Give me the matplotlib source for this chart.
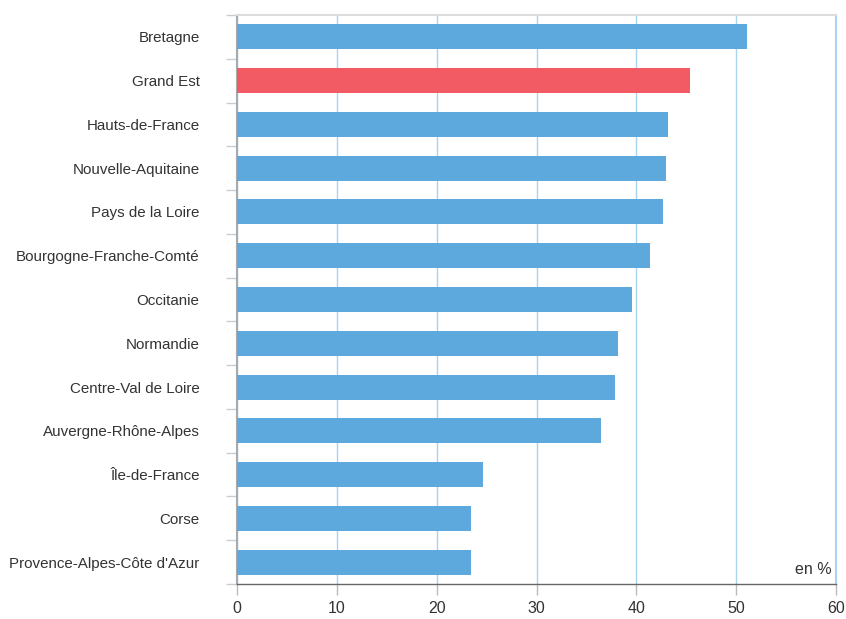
import matplotlib.pyplot as plt
import numpy as np

plt.rcParams['font.family'] = ['Liberation Sans', 'DejaVu Sans']

regions = ["Bretagne", "Grand Est", "Hauts-de-France", "Nouvelle-Aquitaine",
           "Pays de la Loire", "Bourgogne-Franche-Comté", "Occitanie", "Normandie",
           "Centre-Val de Loire", "Auvergne-Rhône-Alpes", "Île-de-France", "Corse",
           "Provence-Alpes-Côte d'Azur"]
values = [51.1, 45.4, 43.2, 43.0, 42.7, 41.4, 39.6, 38.2, 37.9, 36.5, 24.6, 23.4, 23.4]
highlight = "Grand Est"
xticks = [0, 10, 20, 30, 40, 50, 60]

blue = "#5DA9DD"
red = "#F25B63"

fig = plt.figure(figsize=(8.46, 6.19), dpi=100)
ax = fig.add_axes([237 / 846, 1 - 584 / 619, (836 - 237) / 846, (584 - 15) / 619])

y = np.arange(len(regions))
colors = [red if r == highlight else blue for r in regions]
ax.barh(y, values, height=0.57, color=colors, zorder=3)

ax.set_xlim(0, 60)
ax.set_ylim(len(regions) - 0.5, -0.5)
ax.set_xticks(xticks)
ax.set_xticklabels([str(t) for t in xticks], fontsize=11.5, color="#333333")
ax.set_yticks(y)
ax.set_yticklabels(regions, fontsize=10.9, color="#333333")
ax.tick_params(axis='y', length=0, pad=27)
ax.tick_params(axis='x', length=8, color="#BBBBBB", width=1, pad=4)

# boundary ticks on y axis
ax.set_yticks(np.arange(len(regions) + 1) - 0.5, minor=True)
ax.tick_params(axis='y', which='minor', length=8, color="#CCCCCC", width=1)

ax.grid(axis='x', color="#A8D4F0", linewidth=1, zorder=0)
ax.set_axisbelow(True)

ax.spines['left'].set_color("#AAAAAA")
ax.spines['left'].set_linewidth(1.5)
ax.spines['bottom'].set_color("#666666")
ax.spines['bottom'].set_linewidth(1)
ax.spines['top'].set_color("#DDDDDD")
ax.spines['top'].set_linewidth(1.5)
ax.spines['right'].set_color("#A8D4F0")
ax.spines['right'].set_linewidth(1.5)

ax.text(0.993, 0.012, "en %", transform=ax.transAxes, ha='right', va='bottom',
        fontsize=11.5, color="#333333")

fig.savefig("out.png", dpi=100)
